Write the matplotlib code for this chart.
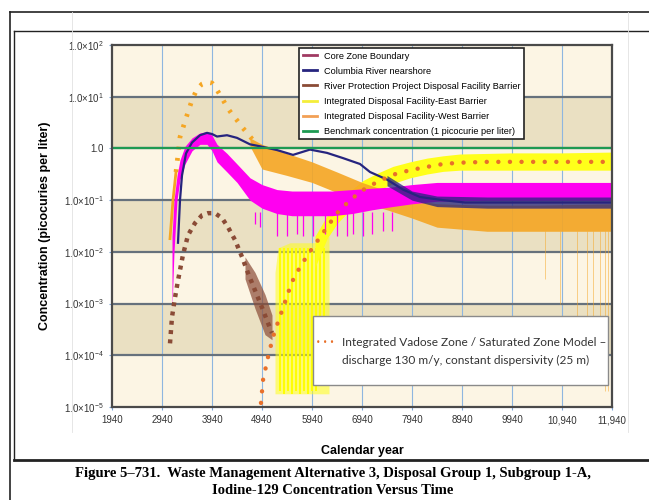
import numpy as np
import matplotlib.pyplot as plt
from matplotlib.lines import Line2D
from matplotlib.patches import Rectangle

plt.rcParams['mathtext.default'] = 'regular'

# ---- values ----
decades = [1e-5, 1e-4, 1e-3, 1e-2, 1e-1, 1.0, 1e1, 1e2]
yTickLabels = ['1.0\u00d710$^{-5}$', '1.0\u00d710$^{-4}$', '1.0\u00d710$^{-3}$',
               '1.0\u00d710$^{-2}$', '1.0\u00d710$^{-1}$', '1.0',
               '1.0\u00d710$^{1}$', '1.0\u00d710$^{2}$']
xTicks = [1940, 2940, 3940, 4940, 5940, 6940, 7940, 8940, 9940, 10940, 11940]
xTickLabels = ['1940', '2940', '3940', '4940', '5940', '6940', '7940', '8940', '9940',
               '10,940', '11,940']

# IDF-West barrier: early dotted peak, then a noisy band
westRiseYears = [3100, 3160, 3220]
westRiseConc = [0.018, 0.1, 0.35]
westPeakYears = [3220, 3300, 3440, 3540, 3640, 3740, 3840, 3940, 4040, 4140, 4240,
                 4340, 4440, 4540, 4640, 4760]
westPeakConc = [0.35, 1.66, 4.4, 8.6, 14, 17.6, 19.2, 18.4, 13.5, 9.4, 6.3, 4.6, 3.5,
                2.6, 2.0, 1.45]
westBandYears = [4700, 4940, 5440, 5940, 6440, 6940, 7440, 7940, 8440, 9440, 10440, 11940]
westBandLo = [1.1, 0.4, 0.3, 0.22, 0.14, 0.09, 0.065, 0.045, 0.03, 0.025, 0.025, 0.025]
westBandHi = [1.6, 1.2, 0.8, 0.55, 0.35, 0.22, 0.15, 0.10, 0.085, 0.08, 0.08, 0.085]
westSpikeYears = [10600, 10900, 11240, 11440, 11560, 11700, 11800, 11860]
westSpikeLow = [3e-3, 1e-3, 2e-4, 1e-4, 5e-5, 3e-5, 2e-5, 2e-5]

# IDF-East barrier: spiky block, then a band along the model curve
eastSpikeYears = [5200, 5260, 5500, 5800, 6100, 6280]
eastSpikeLo = [1.8e-5, 1.8e-5, 1.8e-5, 1.8e-5, 1.8e-5, 1.8e-5]
eastSpikeHi = [0.004, 0.012, 0.015, 0.015, 0.015, 0.02]
eastLineYears = [5300, 5380, 5460, 5540, 5620, 5700, 5780, 5860, 5940, 6020, 6100, 6180]
eastLineLow = [2e-5, 1.8e-5, 2e-5, 1.8e-5, 2e-5, 1.8e-5, 2e-5, 1.8e-5, 2e-5, 2e-5, 3e-5, 5e-5]
eastBandYears = [6000, 6240, 6440, 6700, 6960, 7240, 7560, 7900, 8240, 8560, 8900,
                 9940, 10940, 11940]
eastBandLo = [0.005, 0.018, 0.035, 0.065, 0.1, 0.15, 0.21, 0.27, 0.32, 0.36, 0.38,
              0.38, 0.38, 0.38]
eastBandHi = [0.02, 0.05, 0.09, 0.15, 0.24, 0.33, 0.45, 0.55, 0.65, 0.72, 0.78, 0.82,
              0.82, 0.85]

# Core Zone Boundary (magenta noisy band)
coreYears = [3140, 3180, 3240, 3300, 3400, 3540, 3700, 3840, 3940, 4040, 4240, 4440,
             4700, 4940, 5240, 5540, 5940, 6340, 6740, 7140, 7540, 7940, 8440, 9440,
             10440, 11440, 11940]
coreLo = [8e-4, 0.01, 0.1, 0.25, 0.5, 0.9, 1.2, 1.2, 0.9, 0.55, 0.35, 0.22, 0.1, 0.07,
          0.055, 0.05, 0.05, 0.05, 0.055, 0.065, 0.075, 0.085, 0.095, 0.1, 0.1, 0.1, 0.1]
coreHi = [0.02, 0.1, 0.3, 0.6, 1.1, 1.6, 2.0, 2.1, 1.8, 1.2, 0.8, 0.5, 0.27, 0.2, 0.16,
          0.15, 0.15, 0.15, 0.16, 0.17, 0.18, 0.2, 0.22, 0.22, 0.22, 0.22, 0.22]
coreSpikeYears = [4800, 4900, 5240, 5440, 5640, 5760, 5960, 6200, 6440, 6640, 6760,
                  6960, 7140, 7360, 7540]
coreSpikeLow = [0.035, 0.03, 0.02, 0.02, 0.022, 0.02, 0.02, 0.022, 0.02, 0.02, 0.022,
                0.02, 0.022, 0.025, 0.025]

# Columbia River nearshore
riverYears = [3260, 3300, 3340, 3420, 3540, 3700, 3840, 3940, 4040, 4240, 4440, 4700,
              4900, 5240, 5560, 5900, 6240, 6560, 6900, 7100, 7440, 7760, 8100, 8560,
              9000, 10000, 11000, 11940]
riverConc = [0.015, 0.1, 0.3, 0.8, 1.3, 1.8, 2.0, 1.9, 1.7, 1.8, 1.6, 1.2, 1.1, 0.93,
             0.75, 0.95, 0.82, 0.65, 0.5, 0.35, 0.25, 0.16, 0.115, 0.1, 0.09, 0.09,
             0.09, 0.09]
riverTailYears = [7440, 7940, 8440, 9440, 10440, 11440, 11940]
riverTailLo = [0.19, 0.1, 0.075, 0.07, 0.07, 0.07, 0.07]
riverTailHi = [0.3, 0.15, 0.12, 0.115, 0.115, 0.115, 0.115]

# River Protection Project disposal facility barrier
rppYears = [3100, 3140, 3200, 3260, 3360, 3460, 3600, 3740, 3860, 4000, 4140, 4260,
            4400, 4540, 4660, 4800, 4940, 5060, 5140]
rppConc = [1.7e-4, 5.5e-4, 1.3e-3, 2.8e-3, 8.8e-3, 0.021, 0.036, 0.051, 0.056, 0.056,
           0.045, 0.030, 0.017, 0.008, 0.0039, 0.0018, 8.4e-4, 4.2e-4, 2.7e-4]
rppBandYears = [4600, 4800, 5000, 5140]
rppBandLo = [3e-3, 8e-4, 2.5e-4, 2e-4]
rppBandHi = [8e-3, 4e-3, 1.5e-3, 6e-4]

# Integrated Vadose Zone / Saturated Zone model curve
modelYears = [4920, 4960, 5060, 5160, 5260, 5360, 5460, 5560, 5700, 5880, 6240, 6440,
              6700, 6960, 7240, 7560, 7900, 8240, 8560, 8900, 9440, 10440, 11940]
modelConc = [1.2e-5, 3.3e-5, 9.2e-5, 2.25e-4, 4.4e-4, 8.2e-4, 1.6e-3, 2.85e-3, 5.1e-3,
             9.5e-3, 0.030, 0.056, 0.1, 0.157, 0.224, 0.31, 0.38, 0.44, 0.50, 0.53,
             0.55, 0.55, 0.55]

benchmark = 1.0

legendLabels = ['Core Zone Boundary', 'Columbia River nearshore',
                'River Protection Project Disposal Facility Barrier',
                'Integrated Disposal Facility-East Barrier',
                'Integrated Disposal Facility-West Barrier',
                'Benchmark concentration (1 picocurie per liter)']
legendColors = ['#A03A62', '#26247E', '#8A4B36', '#F4EE3A', '#F2A055', '#1E9A52']

# ---- figure ----
W, H = 649, 500
fig = plt.figure(figsize=(W / 100, H / 100), dpi=100)
fig.patch.set_facecolor('white')

def px(x, y):
    return x / W, 1 - y / H

# page frames
frameStyle = dict(color='#222222', transform=fig.transFigure)
fig.add_artist(Line2D([px(10, 0)[0], 1], [px(0, 12)[1]] * 2, lw=1.2, **frameStyle))
fig.add_artist(Line2D([px(10, 0)[0]] * 2, [px(0, 12)[1], 0], lw=1.2, **frameStyle))
fig.add_artist(Line2D([px(14, 0)[0], 1], [px(0, 31)[1]] * 2, lw=1.0, **frameStyle))
fig.add_artist(Line2D([px(14, 0)[0]] * 2, [px(0, 31)[1], px(0, 460)[1]], lw=1.0, **frameStyle))
fig.add_artist(Line2D([px(14, 0)[0], 1], [px(0, 460)[1]] * 2, lw=2.0, **frameStyle))
for xx in (72, 628):
    fig.add_artist(Line2D([px(xx, 0)[0]] * 2, [px(0, 12)[1], px(0, 432)[1]], lw=0.6,
                          color='#E2E2E2', transform=fig.transFigure))

ax = fig.add_axes([112 / W, 1 - 407 / H, 500 / W, 362 / H])
ax.set_yscale('log')
ax.set_xlim(1940, 11940)
ax.set_ylim(1e-5, 1e2)

# alternating decade bands
for i in range(len(decades) - 1):
    ax.axhspan(decades[i], decades[i + 1], color='#FCF5E4' if i % 2 == 0 else '#EAE0C2',
               lw=0, zorder=0)
for xt in xTicks[1:-1]:
    ax.axvline(xt, color='#8EB6E0', lw=0.8, zorder=1)
for d in decades[1:-1]:
    ax.axhline(d, color='#66717C', lw=1.6, zorder=1)

# IDF-East
ax.fill_between(eastSpikeYears, eastSpikeLo, eastSpikeHi, color='#FFFF1A', alpha=0.55,
                lw=0, zorder=2)
ax.vlines(eastLineYears, eastLineLow, 0.012, color='#FFFF00', lw=1.4, zorder=2)
ax.fill_between(eastBandYears, eastBandLo, eastBandHi, color='#FFFF1A', lw=0, zorder=2)

# IDF-West
ax.fill_between(westBandYears, westBandLo, westBandHi, color='#F5A623', alpha=0.9,
                lw=0, zorder=3)
ax.vlines(westSpikeYears, westSpikeLow, 0.025, color='#F5A623', alpha=0.5, lw=0.7, zorder=3)
ax.plot(westRiseYears, westRiseConc, color='#F5A623', lw=2, zorder=3)
ax.plot(westPeakYears, westPeakConc, color='#F5A623', lw=3.4,
        linestyle=(0, (0.6, 1.8)), dash_capstyle='butt', zorder=3)

# Core Zone Boundary
ax.fill_between(coreYears, coreLo, coreHi, color='#FF00F0', lw=0, zorder=4)
ax.vlines(coreSpikeYears, coreSpikeLow, 0.06, color='#FF00F0', lw=0.9, zorder=4)

# Columbia River nearshore
ax.fill_between(riverTailYears, riverTailLo, riverTailHi, color='#26247E', alpha=0.75,
                lw=0, zorder=5)
ax.plot(riverYears, riverConc, color='#26247E', lw=1.6, zorder=5)

# RPP barrier
ax.fill_between(rppBandYears, rppBandLo, rppBandHi, color='#8A4B36', alpha=0.7, lw=0,
                zorder=5)
ax.plot(rppYears, rppConc, color='#8A4B36', lw=3.2, linestyle=(0, (0.9, 1.2)), zorder=5)

# model curve
ax.plot(modelYears, modelConc, color='#E8702A', lw=3.2, linestyle=(0, (0.01, 2.6)),
        dash_capstyle='round', zorder=6)

ax.axhline(benchmark, color='#1E9A52', lw=1.6, zorder=6)

# axes styling
for s in ax.spines.values():
    s.set_color('#4A4A4A')
    s.set_linewidth(1.6)
    s.set_zorder(7)
ax.set_xticks(xTicks)
ax.set_xticklabels(xTickLabels, fontsize=7, color='#333333', family='Liberation Sans')
ax.set_yticks(decades)
ax.set_yticklabels(yTickLabels, fontsize=7, color='#333333', family='Liberation Sans')
ax.minorticks_off()
ax.tick_params(length=2, color='#7FA6D6', pad=4)
ax.set_xlabel('Calendar year', fontsize=9, fontweight='bold', family='Liberation Sans',
              labelpad=14)
ax.set_ylabel('Concentration (picocuries per liter)', fontsize=9, fontweight='bold',
              family='Liberation Sans', labelpad=9)

# legend
handles = [Line2D([0], [0], color=c, lw=2) for c in legendColors]
leg = ax.legend(handles, legendLabels, loc='upper left', bbox_to_anchor=(0.374, 0.992),
                prop={'family': 'Liberation Sans', 'size': 6.6}, handlelength=1.6,
                handletextpad=0.7, labelspacing=0.66, borderpad=0.4, fancybox=False,
                framealpha=1, edgecolor='#222222', borderaxespad=0)
leg.get_frame().set_linewidth(1.2)
leg.set_zorder(8)

# annotation box
ax.add_patch(Rectangle((0.402, 0.061), 0.59, 0.19, transform=ax.transAxes,
                       facecolor='white', edgecolor='#8A8A8A', lw=1, zorder=8))
ax.text(0.408, 0.177, '\u2022 \u2022 \u2022', transform=ax.transAxes, color='#E8702A',
        fontsize=5.5, va='center', zorder=9)
ax.text(0.459, 0.177, 'Integrated Vadose Zone / Saturated Zone Model \u2013',
        transform=ax.transAxes, fontsize=8.6, color='#333333', family='Lato',
        va='center', zorder=9)
ax.text(0.459, 0.128, 'discharge 130 m/y, constant dispersivity (25 m)',
        transform=ax.transAxes, fontsize=8.6, color='#333333', family='Lato',
        va='center', zorder=9)

# caption
fig.text(333 / W, 1 - 473 / H,
         'Figure 5\u2013731.  Waste Management Alternative 3, Disposal Group 1, Subgroup 1-A,',
         ha='center', va='center', fontsize=10.5, fontweight='bold',
         family='Liberation Serif')
fig.text(333 / W, 1 - 491 / H, 'Iodine-129 Concentration Versus Time', ha='center',
         va='center', fontsize=10.5, fontweight='bold', family='Liberation Serif')

fig.savefig('out.png', dpi=100)
